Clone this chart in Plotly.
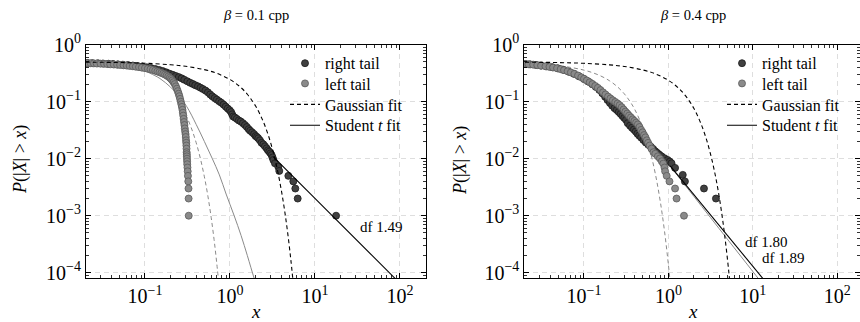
import plotly.graph_objects as go

# ---------------- data: beta = 0.1 cpp ----------------
b1_right_x = [0.021, 0.024, 0.028, 0.032, 0.037, 0.042, 0.048, 0.055, 0.063, 0.072, 0.082, 0.093, 0.105, 0.118,
              0.132, 0.147, 0.162, 0.178, 0.195, 0.212, 0.230, 0.250, 0.270, 0.290, 0.315, 0.340, 0.365, 0.390,
              0.420, 0.450, 0.480, 0.515, 0.550, 0.585, 0.620, 0.660, 0.700, 0.745, 0.790, 0.840, 0.890, 0.940,
              0.990, 1.030, 1.060, 1.090, 1.140, 1.200, 1.270, 1.340, 1.420, 1.500, 1.580, 1.660, 1.730, 1.820,
              1.920, 2.000, 2.080, 2.150, 2.250, 2.350, 2.470, 2.580, 2.700, 2.800, 2.900, 3.000, 3.090, 3.170,
              3.240, 3.380, 3.700, 3.800, 4.860, 5.560, 5.870, 6.260, 17.70]
b1_right_y = [0.478, 0.475, 0.472, 0.468, 0.463, 0.458, 0.452, 0.446, 0.439, 0.431, 0.422, 0.412, 0.401, 0.389,
              0.375, 0.360, 0.344, 0.327, 0.310, 0.296, 0.283, 0.270, 0.257, 0.243, 0.228, 0.215, 0.205, 0.195,
              0.186, 0.176, 0.167, 0.157, 0.146, 0.134, 0.124, 0.116, 0.109, 0.102, 0.096, 0.089, 0.082, 0.076,
              0.071, 0.066, 0.060, 0.055, 0.053, 0.050, 0.047, 0.045, 0.042, 0.039, 0.036, 0.033, 0.031, 0.029,
              0.027, 0.025, 0.024, 0.0228, 0.021, 0.019, 0.0179, 0.0165, 0.0152, 0.014, 0.0133, 0.0124, 0.0116, 0.0105,
              0.0095, 0.0083, 0.0072, 0.0061, 0.005, 0.004, 0.003, 0.002, 0.001]

b1_left_x = [0.021, 0.023, 0.025, 0.027, 0.030, 0.033, 0.036, 0.039, 0.043, 0.047, 0.051, 0.056, 0.061, 0.066,
             0.072, 0.078, 0.085, 0.092, 0.100, 0.108, 0.116, 0.124, 0.132, 0.140, 0.148, 0.156, 0.164, 0.172,
             0.180, 0.188, 0.196, 0.203, 0.210, 0.217, 0.224, 0.231, 0.237, 0.243, 0.249, 0.254, 0.259, 0.264,
             0.268, 0.272, 0.276, 0.279, 0.282, 0.285, 0.288, 0.291, 0.294, 0.297, 0.300, 0.302, 0.304, 0.306,
             0.307, 0.308, 0.309, 0.310, 0.311, 0.312, 0.313, 0.314, 0.316, 0.318, 0.320, 0.323, 0.325, 0.326, 0.327]
b1_left_y = [0.475, 0.472, 0.470, 0.468, 0.465, 0.462, 0.457, 0.453, 0.449, 0.445, 0.441, 0.436, 0.430, 0.424,
             0.418, 0.411, 0.404, 0.396, 0.388, 0.379, 0.370, 0.360, 0.350, 0.339, 0.330, 0.320, 0.310, 0.299,
             0.288, 0.276, 0.263, 0.250, 0.236, 0.220, 0.204, 0.186, 0.169, 0.153, 0.138, 0.125, 0.112, 0.100,
             0.090, 0.081, 0.072, 0.064, 0.057, 0.050, 0.044, 0.039, 0.034, 0.030, 0.027, 0.024, 0.021, 0.019,
             0.017, 0.015, 0.013, 0.012, 0.011, 0.010, 0.009, 0.008, 0.007, 0.006, 0.005, 0.004, 0.003, 0.002, 0.001]

# fitted curves
b1_gauss_r_x = [0.02, 0.05, 0.1, 0.2, 0.3, 0.5, 0.7, 1.0, 1.3, 1.6, 2.0, 2.4, 2.8, 3.2, 3.6, 4.0, 4.4, 4.8, 5.2, 5.5]
b1_gauss_r_y = [0.4945, 0.4862, 0.4725, 0.4451, 0.418, 0.365, 0.3146, 0.2451, 0.1849, 0.135, 0.0839, 0.049,
                0.0267, 0.01366, 0.00652, 0.0029, 0.00121, 0.000466, 0.000168, 7.4e-5]
b1_gauss_l_x = [0.25, 0.3, 0.35, 0.4, 0.45, 0.5, 0.55, 0.6, 0.65, 0.7, 0.75]
b1_gauss_l_y = [0.0975, 0.0601, 0.0349, 0.0191, 0.00985, 0.0048, 0.0022, 0.00094, 0.00038, 0.000143, 5.1e-5]
b1_t_r_x = [3.24, 5, 10, 20, 50, 100]
b1_t_r_y = [0.0108, 0.00565, 0.00201, 0.000716, 0.000183, 6.5e-5]
b1_t_l_x = [0.086, 0.1, 0.115, 0.15, 0.2, 0.25, 0.31, 0.4, 0.5, 0.62, 0.75, 0.9, 1.12, 1.35, 1.6, 1.92, 2.1]
b1_t_l_y = [0.375, 0.345, 0.315, 0.255, 0.18, 0.125, 0.082, 0.04, 0.02, 0.01, 0.0052, 0.0024, 0.001, 0.00045,
            0.0002, 8.07e-5, 5.5e-5]

# ---------------- data: beta = 0.4 cpp ----------------
b4_right_x = [0.020, 0.023, 0.027, 0.031, 0.036, 0.042, 0.049, 0.057, 0.066, 0.076, 0.087, 0.100, 0.112, 0.125,
              0.138, 0.152, 0.165, 0.178, 0.190, 0.203, 0.216, 0.230, 0.244, 0.258, 0.272, 0.286, 0.300, 0.315,
              0.330, 0.351, 0.370, 0.390, 0.410, 0.430, 0.450, 0.475, 0.505, 0.540, 0.580, 0.620, 0.660, 0.700,
              0.740, 0.780, 0.830, 0.900, 0.980, 1.040, 1.090, 1.200, 1.480, 1.570, 2.640, 3.660]
b4_right_y = [0.460, 0.452, 0.442, 0.430, 0.418, 0.403, 0.385, 0.362, 0.336, 0.308, 0.280, 0.250, 0.226, 0.203,
              0.182, 0.161, 0.140, 0.122, 0.107, 0.095, 0.085, 0.077, 0.0715, 0.066, 0.061, 0.056, 0.052, 0.048,
              0.042, 0.038, 0.035, 0.0325, 0.030, 0.0275, 0.0255, 0.0235, 0.0213, 0.0192, 0.0175, 0.0162, 0.0148,
              0.0135, 0.0126, 0.0118, 0.011, 0.0102, 0.0095, 0.0089, 0.0083, 0.0069, 0.0052, 0.004, 0.003, 0.002]

b4_left_x = [0.020, 0.022, 0.025, 0.028, 0.031, 0.035, 0.039, 0.043, 0.048, 0.053, 0.058, 0.064, 0.070, 0.077,
             0.085, 0.093, 0.100, 0.108, 0.117, 0.126, 0.136, 0.146, 0.157, 0.168, 0.180, 0.193, 0.206, 0.220,
             0.235, 0.250, 0.265, 0.280, 0.295, 0.310, 0.326, 0.342, 0.360, 0.378, 0.396, 0.415, 0.435, 0.455,
             0.475, 0.495, 0.515, 0.535, 0.555, 0.575, 0.600, 0.630, 0.665, 0.700, 0.750, 0.794, 0.835, 0.870,
             0.900, 0.915, 0.955, 1.030, 1.200, 1.250, 1.530]
b4_left_y = [0.462, 0.455, 0.447, 0.438, 0.428, 0.418, 0.408, 0.398, 0.386, 0.372, 0.358, 0.342, 0.326, 0.308,
             0.288, 0.268, 0.252, 0.236, 0.219, 0.204, 0.189, 0.175, 0.160, 0.146, 0.134, 0.123, 0.114, 0.106,
             0.099, 0.093, 0.087, 0.080, 0.073, 0.067, 0.062, 0.057, 0.053, 0.049, 0.046, 0.043, 0.040, 0.036,
             0.032, 0.029, 0.026, 0.0237, 0.021, 0.019, 0.017, 0.015, 0.013, 0.0122, 0.011, 0.0101, 0.009, 0.0082,
             0.007, 0.006, 0.005, 0.004, 0.003, 0.002, 0.001]

b4_gauss_r_x = [0.02, 0.05, 0.1, 0.2, 0.3, 0.5, 0.7, 1.0, 1.3, 1.6, 2.0, 2.4, 2.8, 3.2, 3.6, 4.0, 4.4, 4.8, 5.2, 5.5]
b4_gauss_r_y = [0.4943, 0.4858, 0.4715, 0.4432, 0.4152, 0.3605, 0.3085, 0.2375, 0.1765, 0.1265, 0.0766, 0.0432,
                0.02275, 0.0111, 0.00507, 0.00214, 0.000836, 0.000303, 0.000102, 4.3e-5]
b4_gauss_l_x = [0.02, 0.05, 0.1, 0.15, 0.2, 0.25, 0.3, 0.35, 0.4, 0.5, 0.6, 0.7, 0.8, 0.9, 1.0, 1.05]
b4_gauss_l_y = [0.471, 0.4278, 0.358, 0.2928, 0.2336, 0.1817, 0.1377, 0.1015, 0.0729, 0.0345, 0.01456, 0.00546,
                0.00181, 0.000532, 0.000138, 6.7e-5]
b4_t_r_x = [1.05, 2, 5, 10, 15]
b4_t_r_y = [0.0075, 0.00235, 0.000452, 0.00013, 6.25e-5]
b4_t_l_x = [1.05, 2, 5, 10, 15]
b4_t_l_y = [0.0074, 0.00219, 0.000388, 0.000105, 4.87e-5]

titles = ["<i>β</i> = 0.1 cpp", "<i>β</i> = 0.4 cpp"]
df_labels = ["df 1.49", "df 1.80", "df 1.89"]
legend_names = ["right tail", "left tail", "Gaussian fit", "Student <i>t</i> fit"]
x_tickvals = [0.1, 1, 10, 100]
x_ticktext = ["10<sup>−1</sup>", "10<sup>0</sup>", "10<sup>1</sup>", "10<sup>2</sup>"]
y_tickvals = [1e-4, 1e-3, 1e-2, 1e-1, 1]
y_ticktext = ["10<sup>−4</sup>", "10<sup>−3</sup>", "10<sup>−2</sup>", "10<sup>−1</sup>", "10<sup>0</sup>"]

FONT = "Liberation Serif"
DARK = "#404040"
GRAY = "#8a8a8a"

W, H = 860, 322
def px(v):
    return v / W
def py(v):
    return 1 - v / H

# one single-item legend per entry so that row spacing can match the reference
legend_rows = [63.3, 83.5, 104.5, 125.3]
legend_left = [285, 722]

fig = go.Figure()

panels = [
    dict(xa="x", ya="y", legs=["legend", "legend2", "legend3", "legend4"],
         rx=b1_right_x, ry=b1_right_y, lx=b1_left_x, ly=b1_left_y,
         grx=b1_gauss_r_x, gry=b1_gauss_r_y, glx=b1_gauss_l_x, gly=b1_gauss_l_y,
         trx=b1_t_r_x, try_=b1_t_r_y, tlx=b1_t_l_x, tly=b1_t_l_y),
    dict(xa="x2", ya="y2", legs=["legend5", "legend6", "legend7", "legend8"],
         rx=b4_right_x, ry=b4_right_y, lx=b4_left_x, ly=b4_left_y,
         grx=b4_gauss_r_x, gry=b4_gauss_r_y, glx=b4_gauss_l_x, gly=b4_gauss_l_y,
         trx=b4_t_r_x, try_=b4_t_r_y, tlx=b4_t_l_x, tly=b4_t_l_y),
]

for p in panels:
    common = dict(xaxis=p["xa"], yaxis=p["ya"])
    L = p["legs"]
    fig.add_trace(go.Scatter(x=p["glx"], y=p["gly"], mode="lines",
                             line=dict(color=GRAY, width=1, dash="4px,3px", shape="spline"),
                             showlegend=False, **common))
    fig.add_trace(go.Scatter(x=p["tlx"], y=p["tly"], mode="lines", line=dict(color=GRAY, width=1, shape="spline"),
                             showlegend=False, **common))
    fig.add_trace(go.Scatter(x=p["rx"], y=p["ry"], mode="markers", name=legend_names[0], legend=L[0],
                             marker=dict(size=7, color=DARK, line=dict(color="#1a1a1a", width=0.8)), **common))
    fig.add_trace(go.Scatter(x=p["lx"], y=p["ly"], mode="markers", name=legend_names[1], legend=L[1],
                             marker=dict(size=7, color=GRAY, line=dict(color="#5a5a5a", width=0.8)), **common))
    fig.add_trace(go.Scatter(x=p["grx"], y=p["gry"], mode="lines", name=legend_names[2], legend=L[2],
                             line=dict(color="black", width=1.1, dash="4px,3px", shape="spline"), **common))
    fig.add_trace(go.Scatter(x=p["trx"], y=p["try_"], mode="lines", name=legend_names[3], legend=L[3],
                             line=dict(color="black", width=1.1), **common))

y_dom = [py(278), py(44.7)]
x_doms = [[px(86), px(426)], [px(524.3), 1.0]]
x_ranges = [[-1.694, 2.306], [-1.707, 2.270]]

axis_common = dict(type="log", showline=True, linecolor="black", linewidth=1, mirror="allticks",
                   ticks="inside", ticklen=5, tickcolor="black", tickwidth=1, automargin=False,
                   showgrid=True, gridcolor="#dedede", griddash="5px,4px", gridwidth=1,
                   minor=dict(ticks="inside", ticklen=3, tickcolor="black", tickwidth=0.8, dtick="D1", showgrid=False),
                   tickfont=dict(family=FONT, size=20, color="black"), zeroline=False)

for i, (xd, xr) in enumerate(zip(x_doms, x_ranges)):
    sfx = "" if i == 0 else str(i + 1)
    fig.layout["xaxis" + sfx] = dict(domain=xd, range=xr, anchor="y" + sfx,
                                     tickvals=x_tickvals, ticktext=x_ticktext, **axis_common)
    fig.layout["yaxis" + sfx] = dict(domain=y_dom, range=[-4.093, 0], anchor="x" + sfx,
                                     tickvals=y_tickvals, ticktext=y_ticktext, **axis_common)

legend_common = dict(bgcolor="rgba(0,0,0,0)", borderwidth=0, font=dict(family=FONT, size=16, color="black"),
                     xanchor="left", yanchor="middle", itemwidth=30)
leg_layout = {}
k = 0
for lx in legend_left:
    for ry in legend_rows:
        name = "legend" if k == 0 else "legend%d" % (k + 1)
        leg_layout[name] = dict(x=px(lx), y=py(ry), **legend_common)
        k += 1
fig.update_layout(**leg_layout)

annotations = []
centers = [(86 + 426) / 2, (524.3 + 862) / 2]
for i, c in enumerate(centers):
    annotations.append(dict(text=titles[i], x=px(c), y=py(15), xref="paper", yref="paper", showarrow=False,
                            font=dict(family=FONT, size=14.5, color="black"), xanchor="center", yanchor="middle"))
    annotations.append(dict(text="<i>x</i>", x=px(c), y=py(311), xref="paper", yref="paper", showarrow=False,
                            font=dict(family=FONT, size=19, color="black"), xanchor="center", yanchor="middle"))
ylab_x = [20, 460]
for xx in ylab_x:
    annotations.append(dict(text="<i>P</i>(|<i>X</i>| > <i>x</i>)", x=px(xx), y=py(160), xref="paper", yref="paper",
                            showarrow=False, textangle=-90, font=dict(family=FONT, size=18, color="black"),
                            xanchor="center", yanchor="middle"))
df_pos = [(381.7, 226.7), (766.7, 241.7), (783.0, 258.3)]
for txt, (ax_, ay_) in zip(df_labels, df_pos):
    annotations.append(dict(text=txt, x=px(ax_), y=py(ay_), xref="paper", yref="paper", showarrow=False,
                            xanchor="center", yanchor="middle", font=dict(family=FONT, size=15, color="black")))

fig.update_layout(width=W, height=H, margin=dict(l=0, r=0, t=0, b=0, pad=0, autoexpand=False),
                  paper_bgcolor="white", plot_bgcolor="white", annotations=annotations,
                  font=dict(family=FONT, color="black"), hovermode=False)

fig.write_html("out.html", config={"displayModeBar": False, "staticPlot": True},
               post_script="document.body.style.margin='0px';document.body.style.padding='0px';")
